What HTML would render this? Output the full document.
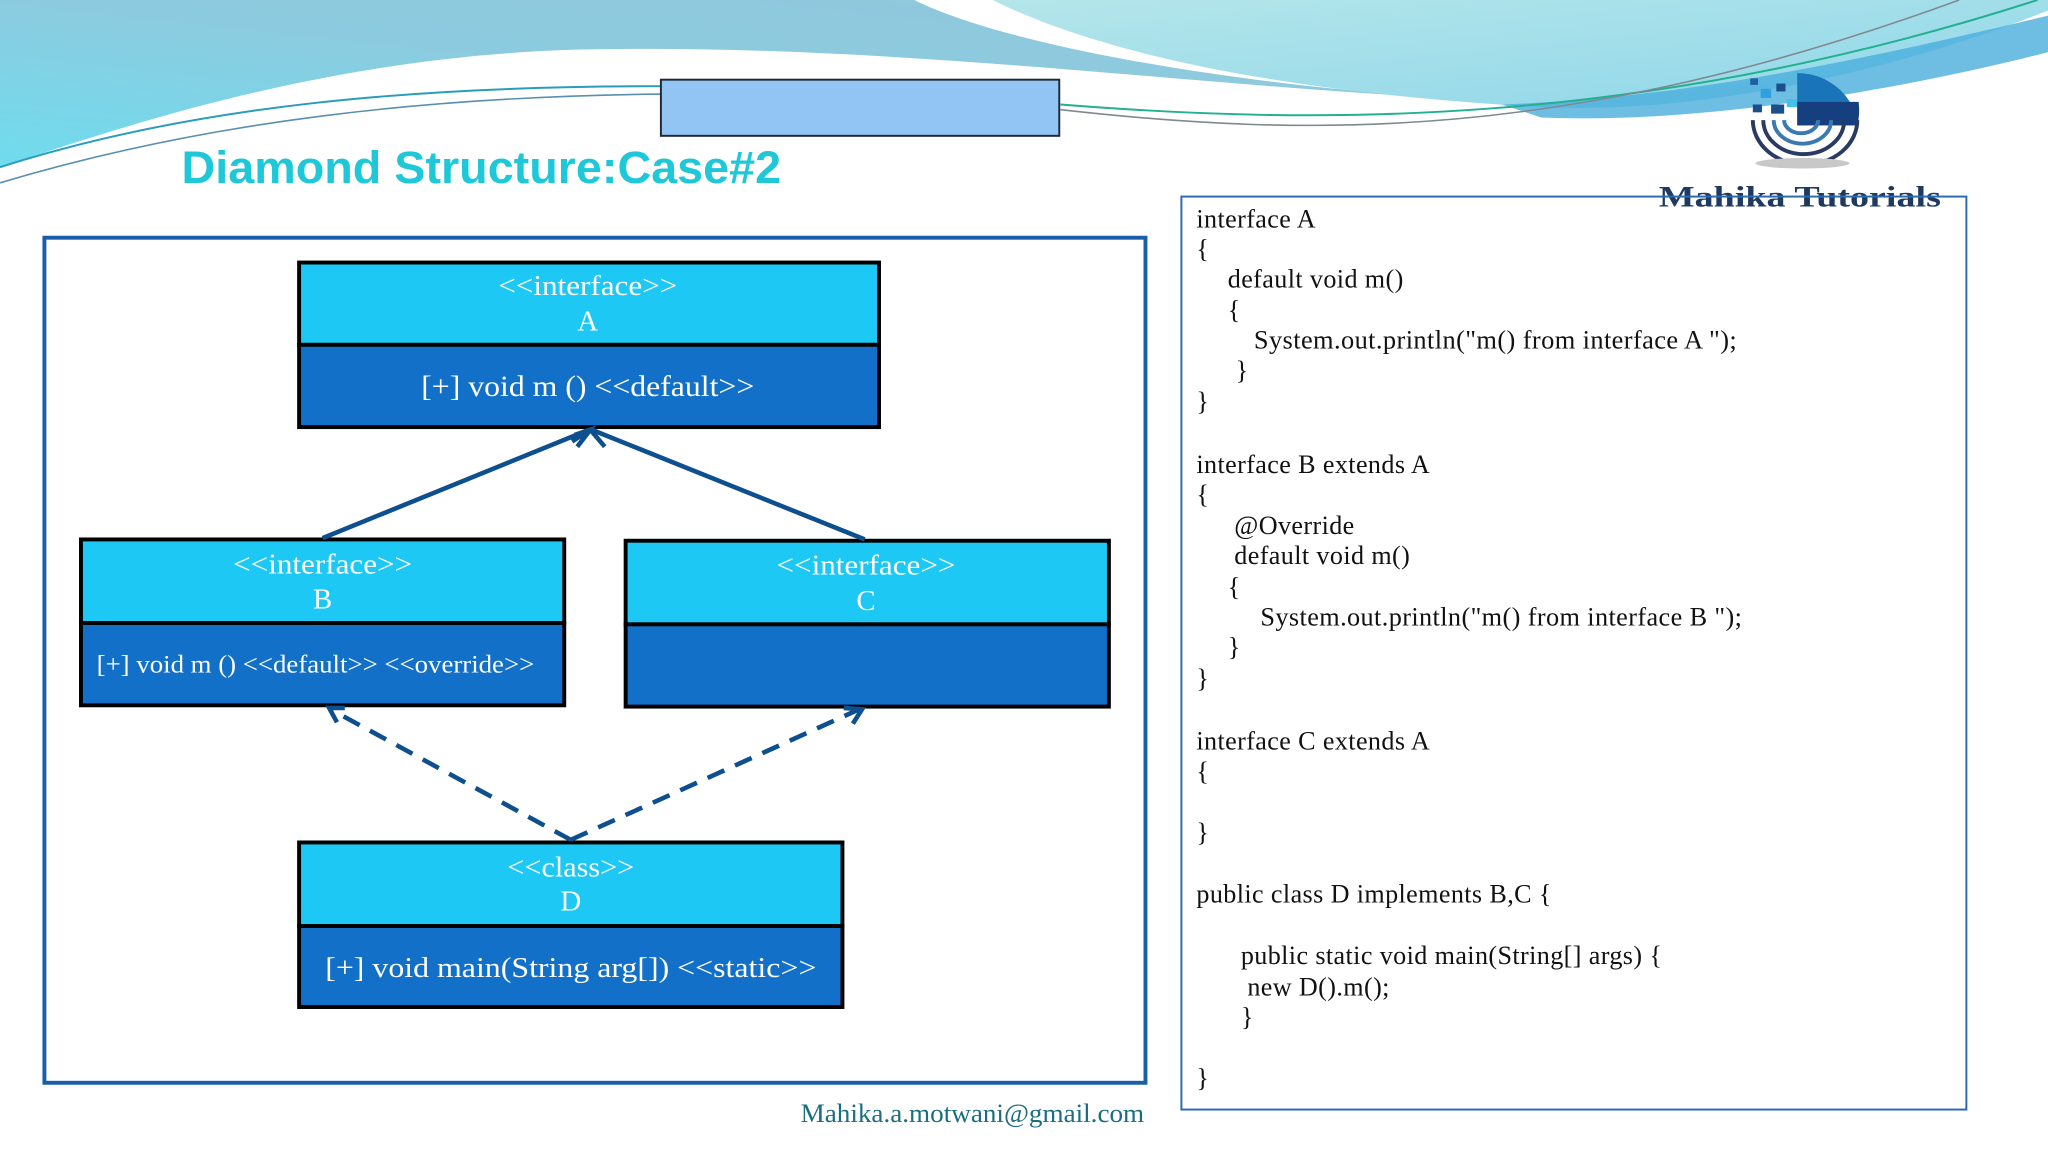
<!DOCTYPE html>
<html><head><meta charset="utf-8"><style>
html,body{margin:0;padding:0;background:#fff;}
svg{display:block;}
.w{font-family:"Liberation Serif",serif;fill:#fff;text-anchor:middle;}
.c{font-family:"Liberation Serif",serif;fill:#111;font-size:20px;letter-spacing:0.3px;}
</style></head><body>
<svg width="2048" height="1152" viewBox="0 0 1568 882" xmlns="http://www.w3.org/2000/svg">
<defs>
<linearGradient id="g1" x1="0" y1="1" x2="1" y2="0">
<stop offset="0" stop-color="#6fdcee"/><stop offset="0.5" stop-color="#8ccbdf"/><stop offset="1" stop-color="#92c6dc"/></linearGradient>
<linearGradient id="g2" x1="0" y1="0" x2="1" y2="1">
<stop offset="0" stop-color="#b4e6ea"/><stop offset="1" stop-color="#8fd6ea"/></linearGradient>
</defs>
<rect width="1568" height="882" fill="#fff"/>
<path d="M0,0 H700 C780,40 1000,74 1180,78 C950,72 700,32 440,38 C250,44 100,95 0,128 Z" fill="url(#g1)"/>
<path d="M760,0 H1568 V8 C1450,55 1300,88 1180,82 C1000,72 850,45 760,0 Z" fill="url(#g2)"/>
<path d="M1150,80 C1300,75 1450,40 1568,12 V40 C1450,70 1300,95 1180,90 Z" fill="#4aaedc" opacity="0.8"/>
<path d="M0,128 C150,80 320,66 506,66" stroke="#2a9cbc" stroke-width="1.5" fill="none"/>
<path d="M0,140 C160,92 330,74 506,72" stroke="#5a8fb0" stroke-width="1.2" fill="none"/>
<path d="M812,80 C1000,95 1250,100 1560,0" stroke="#22b090" stroke-width="1.5" fill="none"/>
<path d="M812,84 C1000,105 1200,110 1500,0" stroke="#808890" stroke-width="1.2" fill="none"/>
<rect x="506" y="61" width="305" height="43" fill="#92c4f4" stroke="#1c2a38" stroke-width="1.5"/>
<text x="139" y="140" font-family="Liberation Sans,sans-serif" font-weight="bold" font-size="35" fill="#1ec8d8" textLength="459" lengthAdjust="spacingAndGlyphs">Diamond Structure:Case#2</text>
<g>
<rect x="1340" y="60" width="6" height="5" fill="#1f5fa0"/>
<rect x="1348" y="68" width="8" height="7" fill="#30a0e0"/>
<rect x="1360" y="64" width="7" height="6" fill="#1a4f8c"/>
<rect x="1368" y="76" width="8" height="6" fill="#46c0e8"/>
<rect x="1342" y="80" width="7" height="6" fill="#1a4f8c"/>
<rect x="1356" y="80" width="10" height="7" fill="#1a4f8c"/>
<path d="M1376,56 A47,47 0 0 1 1423,96 H1376 Z" fill="#1a75b8"/>
<path d="M1376,78 H1423 A47,47 0 0 1 1422,96 H1376 Z" fill="#163f80"/>
<path d="M1342,92 A40,34 0 0 0 1422,92" stroke="#2a3a60" stroke-width="3" fill="none"/>
<path d="M1350,92 A31,26 0 0 0 1412,92" stroke="#2a3a60" stroke-width="3" fill="none"/>
<path d="M1358,92 A22,18 0 0 0 1402,92" stroke="#3a7ab0" stroke-width="3" fill="none"/>
<path d="M1366,92 A13,10 0 0 0 1392,92" stroke="#3a7ab0" stroke-width="3" fill="none"/>
<ellipse cx="1380" cy="125" rx="36" ry="4" fill="#c8c8c8"/>
<text x="1378" y="158" text-anchor="middle" font-family="Liberation Serif,serif" font-weight="bold" font-size="23" fill="#1f3a60" textLength="216" lengthAdjust="spacingAndGlyphs">Mahika Tutorials</text>
</g>
<rect x="34" y="182" width="843" height="647" fill="none" stroke="#1b5ea8" stroke-width="3"/>
<rect x="229" y="201" width="444" height="63" fill="#1ec8f4" stroke="#000" stroke-width="3"/>
<rect x="229" y="264" width="444" height="63" fill="#1270c8" stroke="#000" stroke-width="3"/>
<text class="w" x="450" y="226" font-size="22" textLength="137" lengthAdjust="spacingAndGlyphs">&lt;&lt;interface&gt;&gt;</text>
<text class="w" x="450" y="253" font-size="22">A</text>
<text class="w" x="450" y="303" font-size="23" textLength="255" lengthAdjust="spacingAndGlyphs">[+] void  m () &lt;&lt;default&gt;&gt;</text>
<rect x="62" y="413" width="370" height="64" fill="#1ec8f4" stroke="#000" stroke-width="3"/>
<rect x="62" y="477" width="370" height="63" fill="#1270c8" stroke="#000" stroke-width="3"/>
<text class="w" x="247" y="439" font-size="22" textLength="137" lengthAdjust="spacingAndGlyphs">&lt;&lt;interface&gt;&gt;</text>
<text class="w" x="247" y="466" font-size="22">B</text>
<text class="w" x="74" y="515" font-size="19" style="text-anchor:start" textLength="335" lengthAdjust="spacingAndGlyphs">[+] void  m () &lt;&lt;default&gt;&gt; &lt;&lt;override&gt;&gt;</text>
<rect x="479" y="414" width="370" height="64" fill="#1ec8f4" stroke="#000" stroke-width="3"/>
<rect x="479" y="478" width="370" height="63" fill="#1270c8" stroke="#000" stroke-width="3"/>
<text class="w" x="663" y="440" font-size="22" textLength="137" lengthAdjust="spacingAndGlyphs">&lt;&lt;interface&gt;&gt;</text>
<text class="w" x="663" y="467" font-size="22">C</text>
<rect x="229" y="645" width="416" height="64" fill="#1ec8f4" stroke="#000" stroke-width="3"/>
<rect x="229" y="709" width="416" height="62" fill="#1270c8" stroke="#000" stroke-width="3"/>
<text class="w" x="437" y="671" font-size="22" textLength="97" lengthAdjust="spacingAndGlyphs">&lt;&lt;class&gt;&gt;</text>
<text class="w" x="437" y="697" font-size="22">D</text>
<text class="w" x="437" y="748" font-size="22" textLength="376" lengthAdjust="spacingAndGlyphs">[+] void  main(String arg[]) &lt;&lt;static&gt;&gt;</text>
<g stroke="#0d4f8f" stroke-width="3.5" fill="none">
<line x1="247" y1="412" x2="451" y2="329"/>
<line x1="662" y1="413" x2="453" y2="329"/>
<polyline points="438,338 452,329 463,342"/>
<polyline points="440,333 452,329 442,342"/>
<line x1="437" y1="643" x2="253" y2="543" stroke-dasharray="14,9"/>
<line x1="437" y1="643" x2="658" y2="543" stroke-dasharray="14,9"/>
<polyline points="264,542 252,542 258,553"/>
<polyline points="646,542 660,543 653,554"/>
</g>
<rect x="904.5" y="150.5" width="601" height="699" fill="none" stroke="#2a6ab0" stroke-width="1.5"/>
<text class="c" x="916" y="174">interface A</text>
<text class="c" x="916" y="197">{</text>
<text class="c" x="940" y="220">default void m()</text>
<text class="c" x="940" y="244">{</text>
<text class="c" x="960" y="267" textLength="370" lengthAdjust="spacingAndGlyphs">System.out.println("m() from interface A ");</text>
<text class="c" x="946" y="290">}</text>
<text class="c" x="916" y="314">}</text>
<text class="c" x="916" y="362">interface B extends A</text>
<text class="c" x="916" y="385">{</text>
<text class="c" x="945" y="409">@Override</text>
<text class="c" x="945" y="432">default void m()</text>
<text class="c" x="940" y="456">{</text>
<text class="c" x="965" y="479" textLength="369" lengthAdjust="spacingAndGlyphs">System.out.println("m() from interface B ");</text>
<text class="c" x="940" y="502">}</text>
<text class="c" x="916" y="526">}</text>
<text class="c" x="916" y="574">interface C extends A</text>
<text class="c" x="916" y="597">{</text>
<text class="c" x="916" y="644">}</text>
<text class="c" x="916" y="691">public class D implements B,C {</text>
<text class="c" x="950" y="738">public static void main(String[] args) {</text>
<text class="c" x="955" y="762">new D().m();</text>
<text class="c" x="950" y="785">}</text>
<text class="c" x="916" y="832">}</text>
<text x="876" y="859" text-anchor="end" font-family="Liberation Serif,serif" font-size="20" fill="#1a6e80" textLength="263" lengthAdjust="spacingAndGlyphs">Mahika.a.motwani@gmail.com</text>
</svg>
</body></html>
